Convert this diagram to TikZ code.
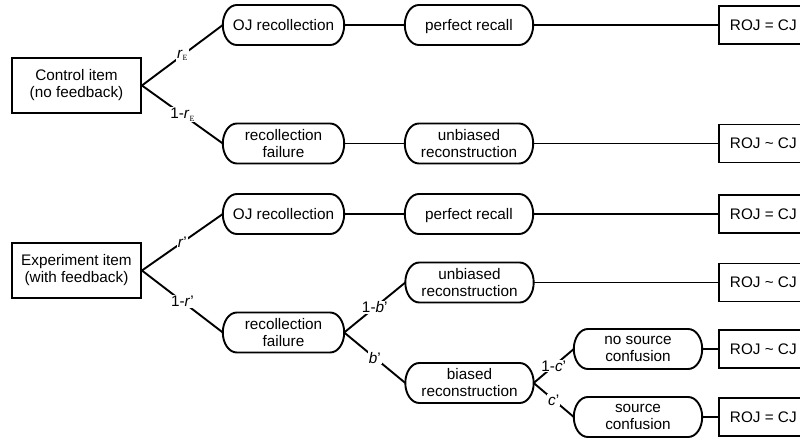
\documentclass[tikz,border=0pt]{standalone}
\usepackage{fontspec}
\setmainfont{Liberation Sans}
\newfontfamily\subserif{Liberation Serif}
\begin{document}
\begin{tikzpicture}[x=1pt,y=-1pt,
  line/.style={line width=1.9pt,black},
  txt/.style={font=\fontsize{15.3}{17}\selectfont, align=center},
  one/.style={text height=12pt,text depth=1.8pt},
  itembox/.style={txt,draw,line width=1.9pt,minimum width=129pt,minimum height=55pt,inner sep=0pt},
  pill/.style={txt,minimum height=40pt,inner sep=0pt},
  rojbox/.style={txt,one,draw,line width=1.9pt,anchor=west,minimum height=38pt,inner xsep=11pt,inner ysep=0pt},
  lab/.style={font=\fontsize{15.3}{17}\selectfont,fill=white,inner sep=1pt,midway}]
\useasboundingbox (0,0) rectangle (800,438);
\clip (0,0) rectangle (800,438);
\newcommand\pillshape[1]{\draw[line] ([xshift=14pt,yshift=20pt]#1.center -| #1.west) -- ([xshift=-14pt,yshift=20pt]#1.center -| #1.east) arc[start angle=90,end angle=-90,x radius=14pt,y radius=20pt] -- ([xshift=14pt,yshift=-20pt]#1.center -| #1.west) arc[start angle=270,end angle=90,x radius=14pt,y radius=20pt] -- cycle;}
\newcommand\subE{\raisebox{-2.5pt}{\subserif\fontsize{8}{8}\selectfont E}}
% control part
\node[itembox] (c1) at (76.5,85.5) {Control item\\(no feedback)};
\node[pill,one,minimum width=121pt] (oj1) at (283.5,25) {OJ recollection};
\node[pill,one,minimum width=128pt] (pr1) at (469,25) {perfect recall};
\node[rojbox] (roj1) at (718,25) {ROJ = CJ};
\node[pill,minimum width=121pt] (rf1) at (283.5,143.5) {recollection\\failure};
\node[pill,minimum width=128pt] (ur1) at (469,143.5) {unbiased\\reconstruction};
\node[rojbox] (roj2) at (718,143.5) {ROJ \textasciitilde{} CJ};
% experiment part
\node[itembox] (e1) at (76.5,270.5) {Experiment item\\(with feedback)};
\node[pill,one,minimum width=121pt] (oj2) at (283.5,214) {OJ recollection};
\node[pill,one,minimum width=128pt] (pr2) at (469,214) {perfect recall};
\node[rojbox] (roj3) at (718,214) {ROJ = CJ};
\node[pill,minimum width=121pt] (rf2) at (283.5,332.5) {recollection\\failure};
\node[pill,minimum width=128pt] (ur2) at (469.5,282.5) {unbiased\\reconstruction};
\node[rojbox] (roj4) at (718,282.5) {ROJ \textasciitilde{} CJ};
\node[pill,minimum width=128pt] (br) at (469.5,383) {biased\\reconstruction};
\node[pill,minimum width=128pt] (ns) at (638,349) {no source\\confusion};
\node[rojbox] (roj5) at (718,349) {ROJ \textasciitilde{} CJ};
\node[pill,minimum width=128pt] (sc) at (638,417) {source\\confusion};
\node[rojbox] (roj6) at (718,417) {ROJ = CJ};
\foreach \n in {oj1,pr1,rf1,ur1,oj2,pr2,rf2,ur2,br,ns,sc} {\pillshape{\n}}
% connectors
\draw[line] (c1.east) -- node[lab]{\textit{r}\subE} (oj1.west);
\draw[line] (c1.east) -- node[lab]{1-\textit{r}\subE} (rf1.west);
\draw[line] (oj1.east) -- (pr1.west);
\draw[line] (pr1.east) -- (roj1.west);
\draw[line] (rf1.east) -- (ur1.west);
\draw[line] (ur1.east) -- (roj2.west);
\draw[line] (e1.east) -- node[lab]{\textit{r}'} (oj2.west);
\draw[line] (e1.east) -- node[lab]{1-\textit{r}'} (rf2.west);
\draw[line] (oj2.east) -- (pr2.west);
\draw[line] (pr2.east) -- (roj3.west);
\draw[line] (rf2.east) -- node[lab]{1-\textit{b}'} (ur2.west);
\draw[line] (rf2.east) -- node[lab]{\textit{b}'} (br.west);
\draw[line] (ur2.east) -- (roj4.west);
\draw[line] (br.east) -- node[lab]{1-\textit{c}'} (ns.west);
\draw[line] (br.east) -- node[lab]{\textit{c}'} (sc.west);
\draw[line] (ns.east) -- (roj5.west);
\draw[line] (sc.east) -- (roj6.west);
\end{tikzpicture}
\end{document}
